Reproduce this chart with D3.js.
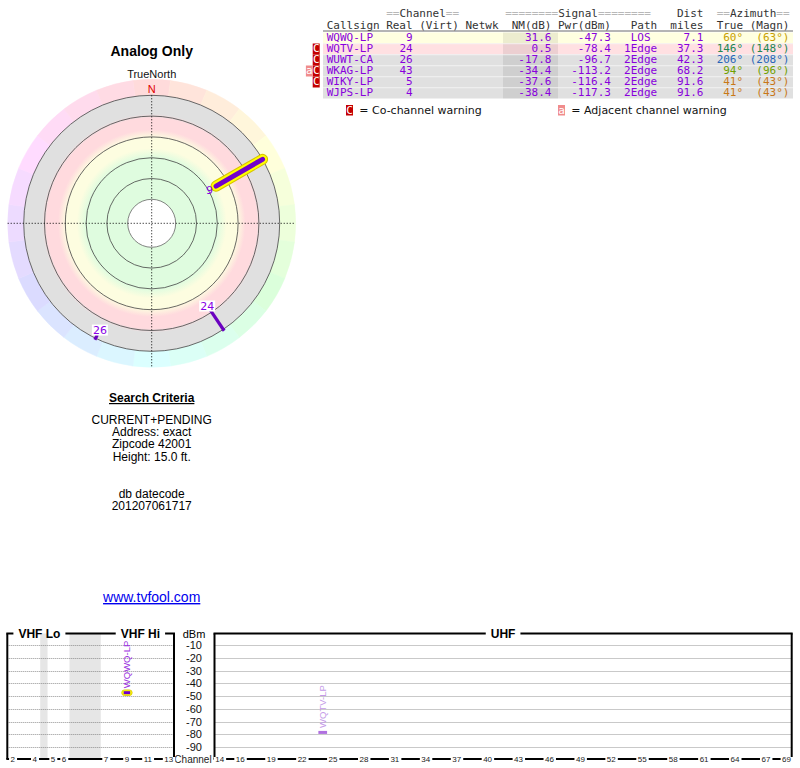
<!DOCTYPE html>
<html><head><meta charset="utf-8">
<script src="https://cdn.jsdelivr.net/npm/d3@7"></script>
<style>
html,body{margin:0;padding:0;background:#fff;}
svg{display:block;}
text{white-space:pre;}
</style></head>
<body>
<svg id="chart" width="800" height="768"></svg>
<script>
// ---------------- DATA ----------------
const callsigns = ["WQWQ-LP","WQTV-LP","WUWT-CA","WKAG-LP","WIKY-LP","WJPS-LP"];
const realCh    = [9, 24, 26, 43, 5, 4];
const nmDb      = [31.6, 0.5, -17.8, -34.4, -37.6, -38.4];
const pwrDbm    = [-47.3, -78.4, -96.7, -113.2, -116.4, -117.3];
const paths     = ["LOS","1Edge","2Edge","2Edge","2Edge","2Edge"];
const distMiles = [7.1, 37.3, 42.3, 68.2, 91.6, 91.6];
const azTrue    = [60, 146, 206, 94, 41, 41];
const azMagn    = [63, 148, 208, 96, 43, 43];
const coWarn    = [0, 1, 1, 1, 1, 0];
const adjWarn   = [0, 0, 0, 1, 0, 0];
const nmRings   = [-20, 0, 20, 40, 60];
const dbmTicks  = [-10, -20, -30, -40, -50, -60, -70, -80, -90];
const vhfTicks  = [2, 4, 5, 6, 7, 9, 11, 13];
const uhfTicks  = [14,16,19,22,25,28,31,34,37,40,43,46,49,52,55,58,61,64,67,69];
const criteria  = ["CURRENT+PENDING","Address: exact","Zipcode 42001","Height: 15.0 ft."];
const datecode  = ["db datecode","201207061717"];

// ---------------- SETUP ----------------
const svg = d3.select("#chart");
const SANS = "'Liberation Sans', Arial, sans-serif";
const MONO = "'DejaVu Sans Mono', monospace";
const PURPLE = "#8800dd";
const stations = callsigns.map((c,i)=>({call:c, ch:realCh[i], nm:nmDb[i], pwr:pwrDbm[i], path:paths[i],
  dist:distMiles[i], az:azTrue[i], mag:azMagn[i], co:coWarn[i], adj:adjWarn[i]}));

const bandColor = d3.scaleThreshold().domain([0,20,40]).range(["#e0e0e0","#ffe0e2","#ffffe0","#e0fce0"]);
const azColor = d3.scaleLinear()
  .domain([0, 41, 60, 94, 146, 206, 270, 330, 360])
  .range(["#cc3333","#c87818","#c8a000","#70a000","#208850","#2a66b8","#6a40c0","#c040a0","#cc3333"]);

// ---------------- LEFT TEXTS ----------------
const CX = 151.7, CY = 223.3;
svg.append("text").attr("x",CX).attr("y",56).attr("text-anchor","middle")
  .style("font",`bold 14px ${SANS}`).text("Analog Only");
svg.append("text").attr("x",CX).attr("y",77.5).attr("text-anchor","middle")
  .style("font",`11px ${SANS}`).attr("fill","#111").text("TrueNorth");

svg.append("text").attr("x",CX).attr("y",402).attr("text-anchor","middle")
  .style("font",`bold 12px ${SANS}`).attr("text-decoration","underline").text("Search Criteria");
criteria.forEach((t,i)=>svg.append("text").attr("x",CX).attr("y",424+i*12.2).attr("text-anchor","middle")
  .style("font",`12px ${SANS}`).text(t));
datecode.forEach((t,i)=>svg.append("text").attr("x",CX).attr("y",498.3+i*12).attr("text-anchor","middle")
  .style("font",`12px ${SANS}`).text(t));
svg.append("text").attr("x",CX).attr("y",602).attr("text-anchor","middle")
  .style("font",`14px ${SANS}`).attr("fill","#0000ee").attr("text-decoration","underline").text("www.tvfool.com");

// ---------------- POLAR ----------------
const rScale = d3.scaleLinear().domain([-20,80]).range([128,24]);
const R0 = rScale(-20), ROUT = 144;
const pg = svg.append("g").attr("transform",`translate(${CX},${CY})`);
const defs = svg.append("defs");
const grad = defs.append("radialGradient").attr("id","bands").attr("gradientUnits","userSpaceOnUse")
  .attr("cx",0).attr("cy",0).attr("r",R0);
const stops = [[0,"#dffcdf"],[rScale(40),"#dffcdf"],[rScale(31),"#fdfde0"],[rScale(21),"#fdfde0"],
  [rScale(13),"#ffdade"],[rScale(2),"#ffdade"],[rScale(-2),"#e0e0e0"],[R0,"#e0e0e0"]];
stops.forEach(s=>grad.append("stop").attr("offset",s[0]/R0).attr("stop-color",s[1]));

const segs = d3.range(0,360,15);
const arc = d3.arc().innerRadius(R0).outerRadius(ROUT);
pg.selectAll("path.seg").data(segs).join("path").attr("class","seg")
  .attr("d",a=>arc({startAngle:(a-7.5)*Math.PI/180,endAngle:(a+7.5)*Math.PI/180}))
  .attr("fill",a=>d3.hsl(a,1,0.93).formatHex()).attr("stroke",a=>d3.hsl(a,1,0.93).formatHex()).attr("stroke-width",0.5);
pg.append("circle").attr("r",R0).attr("fill","url(#bands)");
pg.append("circle").attr("r",rScale(80)).attr("fill","#fff").attr("stroke","#666").attr("stroke-width",0.8);
pg.selectAll("circle.ring").data(nmRings).join("circle").attr("class","ring")
  .attr("r",d=>rScale(d)).attr("fill","none").attr("stroke","#444").attr("stroke-width",0.8);
pg.append("line").attr("x1",-ROUT).attr("x2",ROUT).attr("y1",0).attr("y2",0)
  .attr("stroke","#000").attr("stroke-dasharray","1,2");
pg.append("line").attr("x1",0).attr("x2",0).attr("y1",-R0).attr("y2",ROUT)
  .attr("stroke","#000").attr("stroke-dasharray","1,2");
pg.append("text").attr("x",0).attr("y",-R0-2.5).attr("text-anchor","middle")
  .style("font",`11px ${SANS}`).attr("fill","#e00000").text("N");

const shown = stations.filter(s=>s.nm > -20);
const rad = d=>d*Math.PI/180;
shown.forEach(s=>{
  const p1 = d3.pointRadial(rad(s.az), rScale(s.nm));
  const p2 = d3.pointRadial(rad(s.az), R0);
  if (s.nm >= 20) {
    pg.append("line").attr("x1",p1[0]).attr("y1",p1[1]).attr("x2",p2[0]).attr("y2",p2[1])
      .attr("stroke","#d8c400").attr("stroke-width",11).attr("stroke-linecap","round");
    pg.append("line").attr("x1",p1[0]).attr("y1",p1[1]).attr("x2",p2[0]).attr("y2",p2[1])
      .attr("stroke","#ffff00").attr("stroke-width",9).attr("stroke-linecap","round");
    pg.append("line").attr("x1",p1[0]).attr("y1",p1[1]).attr("x2",p2[0]).attr("y2",p2[1])
      .attr("stroke","#7200cc").attr("stroke-width",5).attr("stroke-linecap","round");
  } else {
    pg.append("line").attr("x1",p1[0]).attr("y1",p1[1]).attr("x2",p2[0]).attr("y2",p2[1])
      .attr("stroke","#6a00c0").attr("stroke-width",3.2).attr("stroke-linecap","square");
  }
  const pl = d3.pointRadial(rad(s.az), rScale(s.nm)-7.5);
  const t = pg.append("text").attr("x",pl[0]).attr("y",pl[1]+4).attr("text-anchor","middle")
    .style("font",`11px 'DejaVu Sans', sans-serif`).attr("fill","#8a00e6").text(s.ch);
  const bb = t.node().getBBox();
  if (s.nm < 20) {
    pg.insert("rect", function(){return t.node();}).attr("x",bb.x-1).attr("y",bb.y+1).attr("width",bb.width+2).attr("height",bb.height-2)
      .attr("fill","#fff");
  }
});

// ---------------- TABLE ----------------
const TX0 = 326.7, CW = 6.61, ROW0 = 32.5, RH = 11;
const cx = c=>TX0 + c*CW;
const tg = svg.append("g");
const hdr = (col, parts, anchor="start", y=17)=>{
  const t = tg.append("text").attr("x",cx(col)).attr("y",y).attr("text-anchor",anchor).style("font",`11px ${MONO}`);
  parts.forEach(p=>t.append("tspan").attr("fill",p[1]).text(p[0]));
};
const EQ = "#b8b8b8", HD = "#333";
hdr(9,  [["==",EQ],["Channel",HD],["==",EQ]]);
hdr(27, [["========",EQ],["Signal",HD],["========",EQ]]);
hdr(57, [["Dist",HD]], "end");
hdr(59, [["==",EQ],["Azimuth",HD],["==",EQ]]);
const y2 = 28.5;
hdr(0, [["Callsign",HD]], "start", y2);
hdr(13,[["Real",HD]], "end", y2);
hdr(14,[["(Virt)",HD]], "start", y2);
hdr(21,[["Netwk",HD]], "start", y2);
hdr(34,[["NM(dB)",HD]], "end", y2);
hdr(43,[["Pwr(dBm)",HD]], "end", y2);
hdr(50,[["Path",HD]], "end", y2);
hdr(57,[["miles",HD]], "end", y2);
hdr(63,[["True",HD]], "end", y2);
hdr(70,[["(Magn)",HD]], "end", y2);
tg.append("line").attr("x1",323).attr("x2",793).attr("y1",31).attr("y2",31).attr("stroke","#444").attr("stroke-width",0.8);

const rowY = d3.scaleBand().domain(d3.range(stations.length)).range([ROW0, ROW0+RH*stations.length]);
stations.forEach((s,i)=>{
  const y = rowY(i);
  tg.append("rect").attr("x",323).attr("y",y).attr("width",470).attr("height",RH).attr("fill",bandColor(s.nm));
  tg.append("rect").attr("x",503).attr("y",y).attr("width",55).attr("height",RH).attr("fill","#000").attr("fill-opacity",0.075);
  if (i>0) tg.append("line").attr("x1",323).attr("x2",793).attr("y1",y+0.25).attr("y2",y+0.25).attr("stroke","#f4f4f4").attr("stroke-width",0.8);
  const by = y + 8.8;
  const cell = (col, txt, anchor, color=PURPLE)=>tg.append("text").attr("x",cx(col)).attr("y",by)
    .attr("text-anchor",anchor).style("font",`11px ${MONO}`).attr("fill",color).text(txt);
  cell(0, s.call, "start");
  cell(13, s.ch, "end");
  cell(34, s.nm.toFixed(1), "end");
  cell(43, s.pwr.toFixed(1), "end");
  cell(47.5, s.path, "middle");
  cell(57, s.dist.toFixed(1), "end");
  cell(63, s.az+"°", "end", azColor(s.az));
  cell(70, "("+s.mag+"°)", "end", azColor(s.az));
  if (s.co) {
    tg.append("rect").attr("x",312.7).attr("y",y).attr("width",7).attr("height",RH).attr("fill","#c40000");
    tg.append("text").attr("x",316.2).attr("y",by).attr("text-anchor","middle").style("font",`11px ${MONO}`).attr("fill","#fff").text("C");
  }
  if (s.adj) {
    tg.append("rect").attr("x",305.9).attr("y",y).attr("width",6.8).attr("height",RH).attr("fill","#f08c8c");
    tg.append("text").attr("x",309.3).attr("y",by).attr("text-anchor","middle").style("font",`11px ${MONO}`).attr("fill","#fff").text("a");
  }
});
// legend
const legend = [[346,"#c40000","C","= Co-channel warning"],[558,"#f08c8c","a","= Adjacent channel warning"]];
legend.forEach(l=>{
  tg.append("rect").attr("x",l[0]).attr("y",105).attr("width",7).attr("height",10.5).attr("fill",l[1]);
  tg.append("text").attr("x",l[0]+3.5).attr("y",113.5).attr("text-anchor","middle").style("font",`11px ${MONO}`).attr("fill","#fff").text(l[2]);
  tg.append("text").attr("x",l[0]+13.3).attr("y",114).style("font",`11px 'DejaVu Sans', sans-serif`).attr("fill","#111").text(l[3]);
});

// ---------------- SPECTRUM CHART ----------------
const yDb = d3.scaleLinear().domain([0,-100]).range([632.3,760]);
const xV = d3.scaleLinear().domain([54,88,174,216]).range([7.3,69.5,100.8,174]);
const xU = d3.scaleLinear().domain([470,806]).range([214.5,791.7]);
const chLo = ch=> ch<=4 ? 54+6*(ch-2) : ch<=6 ? 76+6*(ch-5) : ch<=13 ? 174+6*(ch-7) : 470+6*(ch-14);
const xCh = ch=> ch<=13 ? xV(chLo(ch)+3) : xU(chLo(ch)+3);
const TOP = 633.5, BOT = 759;
const bg = svg.append("g");
// gray bands
[[72,76],[88,174]].forEach(b=>bg.append("rect").attr("x",xV(b[0])).attr("y",TOP).attr("width",xV(b[1])-xV(b[0]))
  .attr("height",BOT-TOP).attr("fill","#e6e6e6"));
// grid
const panels = [[xV(54),xV(216)],[xU(470),xU(806)]];
panels.forEach(p=>{
  bg.selectAll(null).data(dbmTicks).join("line").attr("x1",p[0]).attr("x2",p[1])
    .attr("y1",d=>Math.round(yDb(d))+0.5).attr("y2",d=>Math.round(yDb(d))+0.5)
    .attr("stroke","#777").attr("stroke-width",0.8).attr("stroke-dasharray","1,1");
});
// dBm axis labels
bg.selectAll(null).data(dbmTicks).join("text").attr("x",194).attr("y",d=>yDb(d)+4).attr("text-anchor","middle")
  .style("font",`11px ${SANS}`).attr("fill","#111").text(d=>d);
bg.append("text").attr("x",194).attr("y",637.5).attr("text-anchor","middle").style("font",`11px ${SANS}`).text("dBm");
bg.append("text").attr("x",193).attr("y",763).attr("text-anchor","middle").style("font",`10px ${SANS}`).attr("fill","#222").text("Channel");

// frames with titles
const frame = (x1,x2,titles)=>{
  const g = bg.append("g");
  g.append("line").attr("x1",x1).attr("x2",x1).attr("y1",TOP).attr("y2",BOT).attr("stroke","#000").attr("stroke-width",2);
  g.append("line").attr("x1",x2).attr("x2",x2).attr("y1",TOP).attr("y2",BOT).attr("stroke","#000").attr("stroke-width",2);
  let cur = x1-1;
  titles.forEach(t=>{
    const tt = g.append("text").attr("x",t[0]).attr("y",638).attr("text-anchor","middle")
      .style("font",`bold 12px ${SANS}`).text(t[1]);
    const bb = tt.node().getBBox();
    g.append("line").attr("x1",cur).attr("x2",bb.x-5).attr("y1",TOP).attr("y2",TOP).attr("stroke","#000").attr("stroke-width",2);
    cur = bb.x+bb.width+5;
  });
  g.append("line").attr("x1",cur).attr("x2",x2+1).attr("y1",TOP).attr("y2",TOP).attr("stroke","#000").attr("stroke-width",2);
  g.append("line").attr("x1",x1-1).attr("x2",x2+1).attr("y1",BOT).attr("y2",BOT).attr("stroke","#000").attr("stroke-width",2);
};
frame(xV(54), xV(216), [[(xV(54)+xV(88))/2+1,"VHF Lo"],[(xV(174)+xV(216))/2+3,"VHF Hi"]]);
frame(xU(470), xU(806), [[(xU(470)+xU(806))/2,"UHF"]]);

// channel tick labels
[...vhfTicks, ...uhfTicks].forEach(ch=>{
  const t = bg.append("text").attr("x",xCh(ch)).attr("y",BOT+3).attr("text-anchor","middle")
    .style("font",`8px ${SANS}`).attr("fill","#222").text(ch);
  const bb = t.node().getBBox();
  bg.insert("rect", function(){return t.node();}).attr("x",bb.x-1.5).attr("y",BOT-2).attr("width",bb.width+3).attr("height",4).attr("fill","#fff");
});

// station markers
const mk = stations.filter(s=>s.nm >= 0);
mk.forEach(s=>{
  const x = xCh(s.ch), y = yDb(s.pwr);
  const w = (s.ch<=13 ? xV(chLo(s.ch)+6)-xV(chLo(s.ch)) : xU(chLo(s.ch)+6)-xU(chLo(s.ch)));
  if (s.nm >= 20) {
    bg.append("rect").attr("x",x-w/2).attr("y",y-2.8).attr("width",w).attr("height",5.6).attr("rx",2.8)
      .attr("fill","#ffff00").attr("stroke","#d8c400").attr("stroke-width",0.8);
    bg.append("rect").attr("x",x-w/2+2).attr("y",y-1.5).attr("width",w-4).attr("height",3).attr("fill","#7000cc");
  } else {
    bg.append("rect").attr("x",x-w/2+0.8).attr("y",y-1.5).attr("width",w-1.6).attr("height",3).attr("fill","#b070e0");
  }
  bg.append("text").attr("transform",`translate(${x+3.2},${y-4.5}) rotate(-90)`)
    .style("font",`9.5px ${SANS}`).attr("fill", s.nm>=20 ? "#9a30e0" : "#c49ae8").text(s.call);
});
</script>
</body></html>
